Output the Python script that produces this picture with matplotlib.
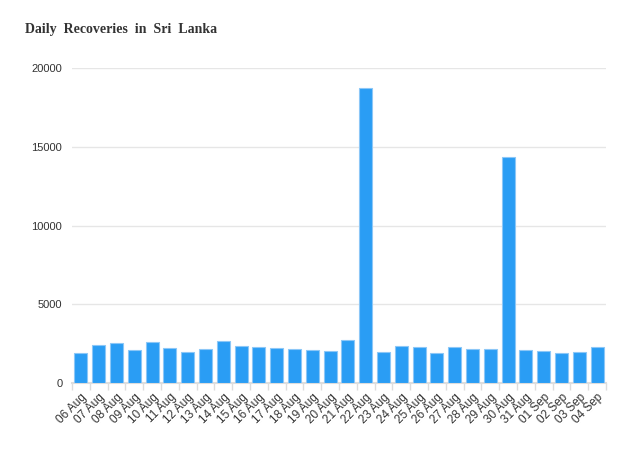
import matplotlib
matplotlib.use("Agg")
import matplotlib.pyplot as plt
import numpy as np

dates = ["06 Aug", "07 Aug", "08 Aug", "09 Aug", "10 Aug", "11 Aug", "12 Aug", "13 Aug",
         "14 Aug", "15 Aug", "16 Aug", "17 Aug", "18 Aug", "19 Aug", "20 Aug", "21 Aug",
         "22 Aug", "23 Aug", "24 Aug", "25 Aug", "26 Aug", "27 Aug", "28 Aug", "29 Aug",
         "30 Aug", "31 Aug", "01 Sep", "02 Sep", "03 Sep", "04 Sep"]
recoveries = [1905, 2430, 2540, 2095, 2600, 2200, 1990, 2135, 2665, 2370,
              2290, 2240, 2160, 2115, 2050, 2730, 18730, 1990, 2370, 2305,
              1905, 2305, 2180, 2180, 14350, 2115, 2030, 1925, 1970, 2285]
yticks = [0, 5000, 10000, 15000, 20000]

plt.rcParams['font.family'] = ['Liberation Sans', 'DejaVu Sans']

fig = plt.figure(figsize=(6.29, 4.49), dpi=100)
ax = fig.add_axes([72/629, 66/449, 534/629, 315/449])

x = np.arange(len(dates))
ax.bar(x, recoveries, width=0.74, color="#2a9df4", edgecolor="#8cc7f7", linewidth=0.8, zorder=3)

ax.set_xlim(-0.5, len(dates) - 0.5)
ax.set_ylim(0, 20000)
ax.set_yticks(yticks)
ax.set_yticklabels([str(v) for v in yticks], fontsize=8, color="#333333")
ax.yaxis.grid(True, color="#e6e6e6", linewidth=1, zorder=0)
ax.tick_params(axis='y', length=0, pad=7)

ax.set_xticks(x)
ax.set_xticklabels(dates, rotation=45, ha='right', rotation_mode='anchor', fontsize=8.5, color="#333333")
ax.set_xticks(np.arange(-0.5, len(dates), 1), minor=True)
ax.tick_params(axis='x', which='major', length=0, pad=6)
ax.tick_params(axis='x', which='minor', length=5, color="#dddddd", width=1)

for s in ['top', 'right', 'left']:
    ax.spines[s].set_visible(False)
ax.spines['bottom'].set_color("#dddddd")
ax.spines['bottom'].set_linewidth(1.5)

fig.text(25/629, 1 - 29/449, "Daily  Recoveries  in  Sri  Lanka", family=['Liberation Serif', 'DejaVu Serif'],
         fontsize=10, fontweight='bold', color="#333333", va='center', ha='left')

fig.savefig("out.png", dpi=100, facecolor="white")
